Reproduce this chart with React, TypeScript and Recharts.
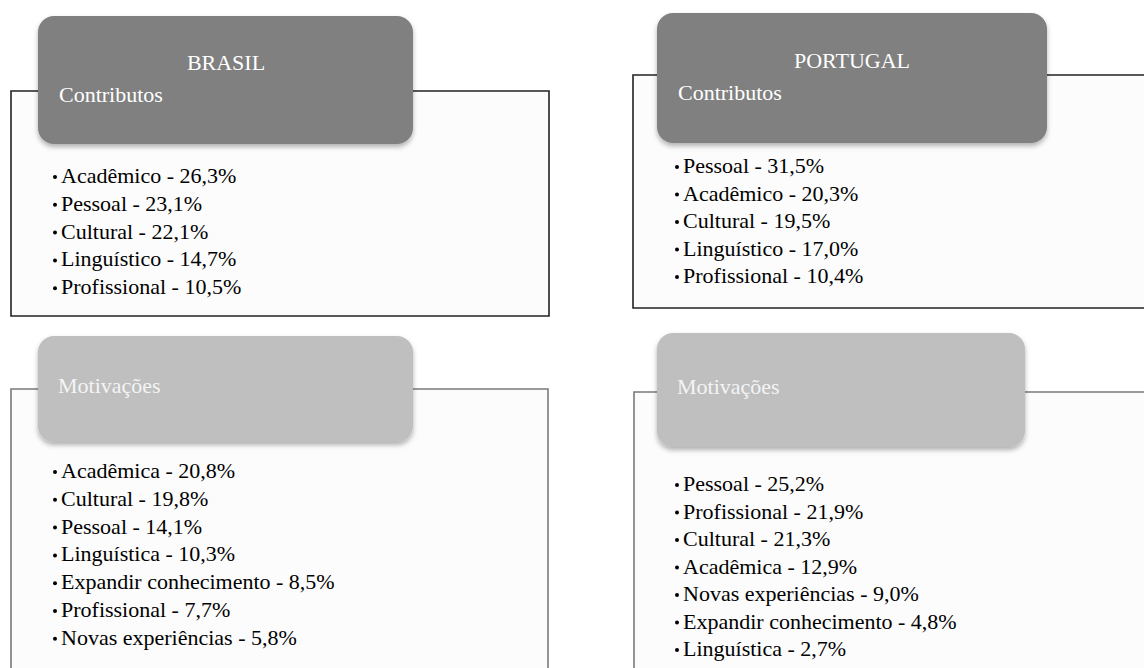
import React from 'react';
import { ScatterChart, Scatter, XAxis, YAxis, ReferenceArea } from 'recharts';

const brasilContribLabels = ['Acadêmico', 'Pessoal', 'Cultural', 'Linguístico', 'Profissional'];
const brasilContribValues = [26.3, 23.1, 22.1, 14.7, 10.5];

const portugalContribLabels = ['Pessoal', 'Acadêmico', 'Cultural', 'Linguístico', 'Profissional'];
const portugalContribValues = [31.5, 20.3, 19.5, 17.0, 10.4];

const brasilMotivLabels = ['Acadêmica', 'Cultural', 'Pessoal', 'Linguística', 'Expandir conhecimento', 'Profissional', 'Novas experiências'];
const brasilMotivValues = [20.8, 19.8, 14.1, 10.3, 8.5, 7.7, 5.8];

const portugalMotivLabels = ['Pessoal', 'Profissional', 'Cultural', 'Acadêmica', 'Novas experiências', 'Expandir conhecimento', 'Linguística'];
const portugalMotivValues = [25.2, 21.9, 21.3, 12.9, 9.0, 4.8, 2.7];

const W = 1144;
const H = 668;
const FONT = '"Liberation Serif", "Times New Roman", serif';

// layout of the four blocks (page pixels)
const panels = [
  { box: [11, 91, 549, 316], header: [38, 16, 413, 144], dark: true,
    title: 'BRASIL', titlePos: [226, 70], sub: 'Contributos', subPos: [59, 102],
    list: [53, 183, 27.8], labels: brasilContribLabels, values: brasilContribValues },
  { box: [633, 75, 1160, 308], header: [657, 13, 1047, 143], dark: true,
    title: 'PORTUGAL', titlePos: [852, 68], sub: 'Contributos', subPos: [678, 100],
    list: [675, 173, 27.5], labels: portugalContribLabels, values: portugalContribValues },
  { box: [11, 389, 548, 690], header: [38, 336, 413, 442], dark: false,
    title: '', titlePos: [0, 0], sub: 'Motivações', subPos: [58, 393],
    list: [53, 478, 27.8], labels: brasilMotivLabels, values: brasilMotivValues },
  { box: [634, 392, 1160, 690], header: [657, 333, 1025, 447], dark: false,
    title: '', titlePos: [0, 0], sub: 'Motivações', subPos: [677, 394],
    list: [675, 491, 27.5], labels: portugalMotivLabels, values: portugalMotivValues },
];

const fmt = (v: number) => `${v.toFixed(1).replace('.', ',')}%`;

const itemData = panels.flatMap(p =>
  p.labels.map((label, i) => ({
    x: p.list[0],
    y: p.list[1] + i * p.list[2],
    text: `${label} - ${fmt(p.values[i])}`,
  }))
);

const headerTextData = panels.flatMap(p => {
  const out = [{ x: p.subPos[0], y: p.subPos[1], text: p.sub, anchor: 'start', color: p.dark ? '#ffffff' : '#f4f4f4' }];
  if (p.title) out.push({ x: p.titlePos[0], y: p.titlePos[1], text: p.title, anchor: 'middle', color: '#ffffff' });
  return out;
});

const ItemShape = (props: any) => {
  const { cx, cy, payload } = props;
  return (
    <g>
      <circle cx={cx + 2} cy={cy - 6} r={2} fill="#000" />
      <text x={cx + 8} y={cy} fontSize={22} fontFamily={FONT} fill="#000">
        {payload.text}
      </text>
    </g>
  );
};

const HeaderTextShape = (props: any) => {
  const { cx, cy, payload } = props;
  return (
    <text x={cx} y={cy} fontSize={22} fontFamily={FONT} fill={payload.color} textAnchor={payload.anchor}>
      {payload.text}
    </text>
  );
};

const headerShape = (fill: string) => (props: any) => {
  const { x, y, width, height } = props;
  return <rect x={x} y={y} width={width} height={height} rx={16} ry={16} fill={fill} filter="url(#hdrShadow)" />;
};

export default function App() {
  return (
    <div style={{ position: 'absolute', left: 0, top: 0, width: W, height: H, background: '#fff', overflow: 'hidden' }}>
      <ScatterChart width={W} height={H} margin={{ top: 0, right: 0, bottom: 0, left: 0 }}>
        <defs>
          <filter id="hdrShadow" x="-10%" y="-10%" width="120%" height="130%">
            <feDropShadow dx={0} dy={3} stdDeviation={2.5} floodColor="#000" floodOpacity={0.3} />
          </filter>
        </defs>
        <XAxis type="number" dataKey="x" domain={[0, W]} allowDataOverflow hide />
        <YAxis type="number" dataKey="y" domain={[0, H]} allowDataOverflow reversed hide />
        {panels.map((p, i) => (
          <ReferenceArea
            key={`box-${i}`}
            x1={p.box[0]} y1={p.box[1]} x2={p.box[2]} y2={p.box[3]}
            fill="#fcfcfc" fillOpacity={1}
            stroke={p.dark ? '#222222' : '#7a7a7a'} strokeWidth={1.6}
            ifOverflow="visible"
          />
        ))}
        {panels.map((p, i) => (
          <ReferenceArea
            key={`hdr-${i}`}
            x1={p.header[0]} y1={p.header[1]} x2={p.header[2]} y2={p.header[3]}
            ifOverflow="visible"
            shape={headerShape(p.dark ? '#808080' : '#bfbfbf')}
          />
        ))}
        <Scatter data={itemData} shape={ItemShape} isAnimationActive={false} />
        <Scatter data={headerTextData} shape={HeaderTextShape} isAnimationActive={false} />
      </ScatterChart>
    </div>
  );
}
